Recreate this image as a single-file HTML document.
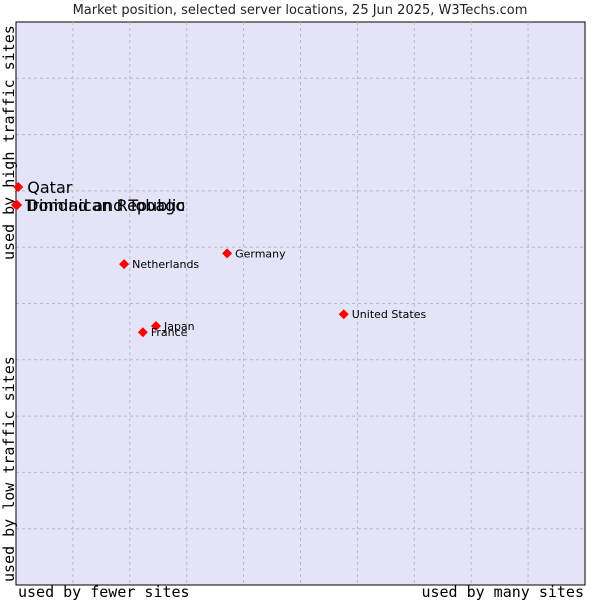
<!DOCTYPE html>
<html><head><meta charset="utf-8"><style>
body{margin:0;background:#fff;}
svg{display:block;}
</style></head><body>
<svg id="chart" width="600" height="600" xmlns="http://www.w3.org/2000/svg">
<text x="300" y="14" text-anchor="middle" font-family="DejaVu Sans, sans-serif" font-size="13" fill="#222">Market position, selected server locations, 25 Jun 2025, W3Techs.com</text>
<rect x="16" y="22" width="569" height="563" fill="#e4e4f8" stroke="#000" stroke-width="1"/>
<g id="grid"></g>
<line x1="16" y1="22" x2="16" y2="585" stroke="#000"/>
<line x1="16" y1="585" x2="585" y2="585" stroke="#000"/>
<text x="18" y="597" font-family="DejaVu Sans Mono, monospace" font-size="15" fill="#000">used by fewer sites</text>
<text x="584" y="597" text-anchor="end" font-family="DejaVu Sans Mono, monospace" font-size="15" fill="#000">used by many sites</text>
<text transform="translate(14,582) rotate(-90)" font-family="DejaVu Sans Mono, monospace" font-size="15" fill="#000">used by low traffic sites</text>
<text transform="translate(14,260) rotate(-90)" font-family="DejaVu Sans Mono, monospace" font-size="15" fill="#000">used by high traffic sites</text>
<g id="points"></g>
</svg>
<script>
const countries = ["Trinidad and Tobago","Dominican Republic","Qatar","Germany","Netherlands","United States","Japan","France"];
const xValues = [0, 0.2, 0.4, 37.1, 19.0, 57.6, 24.6, 22.3];
const yValues = [67.5, 67.5, 70.7, 58.9, 57.0, 48.1, 46.0, 44.9];
const bigLabel = [true, true, true, false, false, false, false, false];

const L=16,R=585,T=22,B=585;
function xs(v){return L+(R-L)*v/100;}
function ys(v){return B-(B-T)*v/100;}
const NS="http://www.w3.org/2000/svg";
const grid=document.getElementById('grid');
for(let i=1;i<10;i++){
  const gx=document.createElementNS(NS,'line');
  gx.setAttribute('x1',xs(i*10));gx.setAttribute('x2',xs(i*10));
  gx.setAttribute('y1',T);gx.setAttribute('y2',B);
  gx.setAttribute('stroke','#bbb');gx.setAttribute('stroke-dasharray','3,3');
  
  
  grid.appendChild(gx);
  const gy=document.createElementNS(NS,'line');
  gy.setAttribute('y1',ys(i*10));gy.setAttribute('y2',ys(i*10));
  gy.setAttribute('x1',L);gy.setAttribute('x2',R);
  gy.setAttribute('stroke','#bbb');gy.setAttribute('stroke-dasharray','3,3');
  
  
  grid.appendChild(gy);
}
const pts=document.getElementById('points');
countries.forEach((c,i)=>{
  const x=xs(xValues[i]),y=ys(yValues[i]);
  const d=document.createElementNS(NS,'path');
  d.setAttribute('d',`M${x-5},${y}L${x},${y-5}L${x+5},${y}L${x},${y+5}Z`);
  d.setAttribute('fill','#f00');
  
  
  pts.appendChild(d);
  const t=document.createElementNS(NS,'text');
  t.setAttribute('x',x+(bigLabel[i]?9:8));
  t.setAttribute('y',y+(bigLabel[i]?6:4));
  t.setAttribute('font-family','DejaVu Sans, sans-serif');
  t.setAttribute('font-size',bigLabel[i]?'16':'11');
  t.setAttribute('fill','#000');
  t.textContent=c;
  
  
  pts.appendChild(t);
});
</script>
</body></html>
